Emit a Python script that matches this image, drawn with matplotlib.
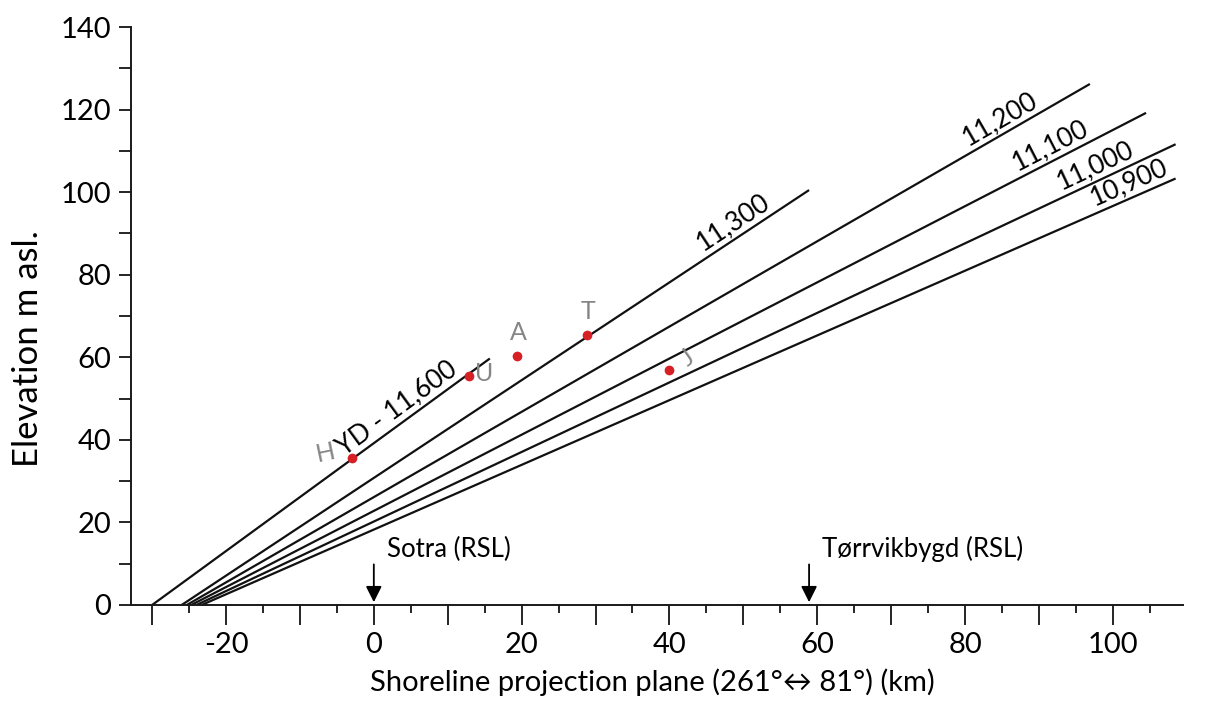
import matplotlib.pyplot as plt
import numpy as np
from matplotlib.ticker import MultipleLocator, FuncFormatter

plt.rcParams['font.family'] = ['Lato', 'DejaVu Sans']

# isobase lines (km along projection plane, m asl.)
line_labels = ['YD - 11,600', '11,300', '11,200', '11,100', '11,000', '10,900']
x_start = [-30.0, -26.0, -25.3, -24.7, -24.0, -23.3]
x_end = [15.7, 58.9, 96.9, 104.5, 108.5, 108.5]
y_end = [59.7, 100.5, 126.2, 119.2, 111.6, 103.3]
label_x = [4.3, 49.8, 85.8, 92.5, 98.5, 103.0]

# dated sites (red dots) with the hand written letters
site_x = [-3.0, 12.9, 19.4, 28.9, 40.0]
site_y = [35.6, 55.5, 60.3, 65.4, 56.8]
site_names = ['H', 'U', 'A', 'T', 'J']
name_x = [-6.5, 15.0, 19.5, 29.0, 42.5]
name_y = [37.0, 56.1, 65.9, 71.0, 59.8]
name_rot = [12, 0, 0, 0, 35]

# RSL curves
rsl_names = ['Sotra (RSL)', 'Tørrvikbygd (RSL)']
rsl_x = [0.0, 58.9]

fig = plt.figure(figsize=(12.09, 7.24), dpi=100)
ax = fig.add_axes([0.1081, 0.1644, 0.8704, 0.7983])
ax.set_xlim(-32.9, 109.5)
ax.set_ylim(0, 140)

for s in ['top', 'right']:
    ax.spines[s].set_visible(False)
for s in ['left', 'bottom']:
    ax.spines[s].set_linewidth(1.4)
    ax.spines[s].set_color('#1a1a1a')

ax.xaxis.set_major_locator(MultipleLocator(10))
ax.xaxis.set_minor_locator(MultipleLocator(5))
ax.xaxis.set_major_formatter(FuncFormatter(
    lambda v, p: f'{v:.0f}' if round(v) % 20 == 0 else ''))
ax.yaxis.set_major_locator(MultipleLocator(10))
ax.yaxis.set_major_formatter(FuncFormatter(
    lambda v, p: f'{v:.0f}' if round(v) % 20 == 0 else ''))
ax.tick_params(axis='x', which='major', direction='out', length=14.5,
               width=1.2, pad=5, labelsize=21)
ax.tick_params(axis='x', which='minor', direction='out', length=6, width=1.2)
ax.tick_params(axis='y', which='major', direction='out', length=9,
               width=1.2, pad=5, labelsize=21)

for i in range(len(line_labels)):
    ax.plot([x_start[i], x_end[i]], [0, y_end[i]], color='#111111', lw=1.6,
            clip_on=False, solid_capstyle='butt')

for i in range(len(line_labels)):
    slope = y_end[i] / (x_end[i] - x_start[i])
    ly = slope * (label_x[i] - x_start[i])
    p0 = ax.transData.transform((x_start[i], 0))
    p1 = ax.transData.transform((x_end[i], y_end[i]))
    ang = np.arctan2(p1[1] - p0[1], p1[0] - p0[0])
    off = 15
    ax.annotate(line_labels[i], (label_x[i], ly),
                xytext=(-np.sin(ang) * off, np.cos(ang) * off),
                textcoords='offset pixels', rotation=np.degrees(ang),
                rotation_mode='anchor', ha='center', va='center',
                fontsize=19, annotation_clip=False)

ax.plot(site_x, site_y, 'o', color='#d71f26', ms=7, mec='none', zorder=5)
for i in range(len(site_names)):
    ax.text(name_x[i], name_y[i], site_names[i], color='#858585',
            fontsize=18, rotation=name_rot[i], ha='center', va='center')

for i in range(len(rsl_names)):
    ax.annotate('', xy=(rsl_x[i], 0), xytext=(rsl_x[i], 10.5),
                arrowprops=dict(arrowstyle='-|>', color='black', lw=1.3,
                                mutation_scale=24), annotation_clip=False)
    ax.text(rsl_x[i] + 1.8, 11.6, rsl_names[i], fontsize=18.5, ha='left',
            va='baseline')

fig.text(0.0235, 0.518, 'Elevation m asl.', rotation=90, fontsize=25,
         ha='center', va='center')
fig.text(0.54, 0.058, 'Shoreline projection plane (261°\u2194 81°) (km)',
         fontsize=21, ha='center', va='center')

fig.savefig('out.png', dpi=100, facecolor='white')
